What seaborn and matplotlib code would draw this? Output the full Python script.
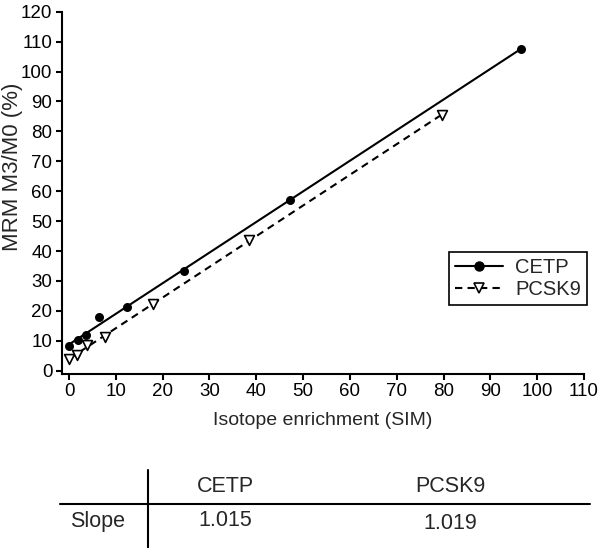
import matplotlib
matplotlib.use("Agg")
import matplotlib.pyplot as plt
from matplotlib.lines import Line2D
import seaborn as sns

# values
cetp_x = [0, 1.9, 3.6, 6.4, 12.4, 24.6, 47.3, 96.5]
cetp_y = [8.2, 10.2, 11.9, 17.9, 21.2, 33.3, 57.2, 107.6]
pcsk9_x = [0, 1.7, 3.9, 7.6, 17.9, 38.4, 79.7]
pcsk9_y = [3.9, 5.3, 8.6, 11.4, 22.2, 43.8, 85.5]

series = ["CETP", "PCSK9"]
slopes = ["1.015", "1.019"]
x_ticks = list(range(0, 111, 10))
y_ticks = list(range(0, 121, 10))

sns.set_style("ticks")
plt.rcParams["font.family"] = ["Liberation Sans", "DejaVu Sans"]
plt.rcParams["axes.linewidth"] = 1.5
plt.rcParams["xtick.major.width"] = 1.5
plt.rcParams["ytick.major.width"] = 1.5
plt.rcParams["xtick.major.size"] = 4
plt.rcParams["ytick.major.size"] = 4
plt.rcParams["xtick.color"] = "black"
plt.rcParams["ytick.color"] = "black"
plt.rcParams["axes.edgecolor"] = "black"

fig = plt.figure(figsize=(6, 5.48), dpi=100)
ax = fig.add_axes([0.1033, 0.318, 0.87, 0.6606])

sns.regplot(x=cetp_x, y=cetp_y, ax=ax, ci=None, color="black", marker="o",
            scatter_kws=dict(s=42, alpha=1, zorder=3, linewidths=0),
            line_kws=dict(lw=1.5, zorder=2))
sns.regplot(x=pcsk9_x, y=pcsk9_y, ax=ax, ci=None, color="black", marker="v",
            scatter_kws=dict(s=50, alpha=1, zorder=3, facecolors="white",
                             edgecolors="black", linewidths=1.2),
            line_kws=dict(lw=1.5, ls="--", dashes=(3.5, 2.5), zorder=2))

ax.set_xlim(-1.5, 110)
ax.set_ylim(-1, 120)
ax.set_xticks(x_ticks)
ax.set_yticks(y_ticks)
ax.tick_params(labelsize=13.5, pad=3)
ax.set_xlabel("Isotope enrichment (SIM)", fontsize=14, labelpad=8)
ax.set_ylabel("MRM M3/M0 (%)", fontsize=16)
ax.yaxis.set_label_coords(-0.074, 0.571)
sns.despine(ax=ax)

handles = [
    Line2D([0], [0], color="black", lw=1.5, marker="o", ms=6.5),
    Line2D([0], [0], color="black", lw=1.5, ls="--", dashes=(3.5, 2.5),
           marker="v", ms=7.5, mfc="white", mec="black", mew=1.2),
]
leg = ax.legend(handles, series, loc="upper right", bbox_to_anchor=(1.006, 0.336),
                borderaxespad=0, fontsize=14.5, frameon=True, fancybox=False,
                framealpha=1, handlelength=2.4, handletextpad=0.6,
                borderpad=0.3, labelspacing=0.15)
leg.get_frame().set_edgecolor("black")
leg.get_frame().set_linewidth(1.2)

# slope table below the plot
fig.add_artist(Line2D([0.1, 0.983], [0.0803, 0.0803], transform=fig.transFigure,
                      color="black", lw=1.5))
fig.add_artist(Line2D([0.247, 0.247], [0.142, 0.0], transform=fig.transFigure,
                      color="black", lw=1.5))
col_x = [0.375, 0.75]
for i, (cx, name, val) in enumerate(zip(col_x, series, slopes)):
    fig.text(cx, 0.113, name, ha="center", va="center", fontsize=15.5)
    fig.text(cx, 0.050 - 0.005 * i, val, ha="center", va="center", fontsize=15.5)
fig.text(0.162, 0.048, "Slope", ha="center", va="center", fontsize=15.5)

fig.savefig("out.png", dpi=100)
